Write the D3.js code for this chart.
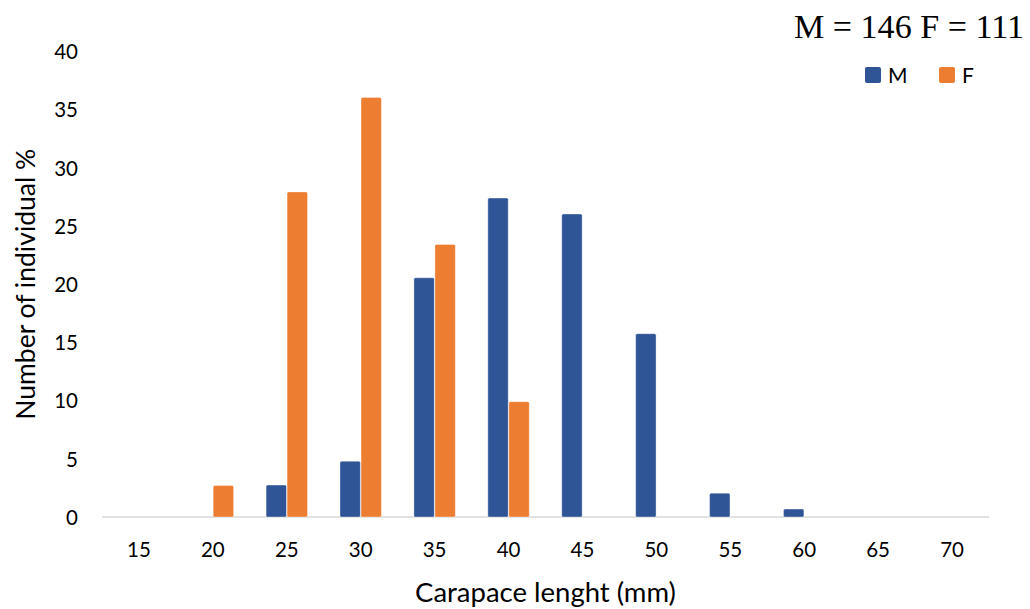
<!DOCTYPE html>
<html>
<head>
<meta charset="utf-8">
<script src="https://cdn.jsdelivr.net/npm/d3@7"></script>
<style>
  html, body { margin: 0; padding: 0; background: #fff; }
  svg { display: block; }
</style>
</head>
<body>
<svg id="chart" width="1030" height="609"></svg>
<script>
// Carapace length classes (mm)
const categories = ["15", "20", "25", "30", "35", "40", "45", "50", "55", "60", "65", "70"];
// Share of individuals (%) per size class
const males   = [0, 0, 2.74, 4.79, 20.55, 27.40, 26.03, 15.75, 2.05, 0.68, 0, 0];
const females = [0, 2.70, 27.93, 36.04, 23.42, 9.91, 0, 0, 0, 0, 0, 0];
const seriesNames = ["M", "F"];
const yTicks = [0, 5, 10, 15, 20, 25, 30, 35, 40];
const sampleNote = "M = 146 F = 111";

const colors = { M: "#2F5597", F: "#ED7D31" };
const sans = "Lato, 'Open Sans', sans-serif";

const svg = d3.select("#chart");
const plot = { left: 102, right: 989, top: 51.4, bottom: 517 };

const x0 = d3.scaleBand()
  .domain(categories)
  .range([plot.left, plot.right])
  .paddingInner(0.44)
  .paddingOuter(0.22);

const x1 = d3.scaleBand()
  .domain(seriesNames)
  .range([0, x0.bandwidth()])
  .paddingInner(0.03);

const y = d3.scaleLinear().domain([0, 40]).range([plot.bottom, plot.top]);

const rows = categories.map((c, i) => ({ cat: c, M: males[i], F: females[i] }));

// Y tick labels (no axis line, no gridlines)
const yAxis = d3.axisLeft(y).tickValues(yTicks).tickSize(0).tickPadding(0);
const gy = svg.append("g").attr("transform", "translate(78,0)").call(yAxis);
gy.select(".domain").remove();
gy.selectAll("text")
  .style("font-family", sans)
  .style("font-size", "20.5px")
  .attr("fill", "#000")
  .attr("dy", "0.36em");

// X axis: light baseline with category labels
const xAxis = d3.axisBottom(x0).tickSize(0).tickPadding(0);
const gx = svg.append("g").attr("transform", `translate(0,${plot.bottom})`).call(xAxis);
gx.select(".domain")
  .attr("stroke", "#d9d9d9")
  .attr("stroke-width", 1.5)
  .attr("d", `M${plot.left},0H${plot.right}`);
gx.selectAll("text")
  .style("font-family", sans)
  .style("font-size", "20.5px")
  .attr("fill", "#000")
  .attr("y", 33)
  .attr("dy", "0.36em");

// Bars
const groups = svg.append("g").selectAll("g")
  .data(rows)
  .join("g")
  .attr("transform", d => `translate(${x0(d.cat)},0)`);

groups.selectAll("rect")
  .data(d => seriesNames.map(k => ({ key: k, value: d[k] })).filter(e => e.value > 0))
  .join("rect")
  .attr("x", d => x1(d.key))
  .attr("y", d => y(d.value))
  .attr("width", x1.bandwidth())
  .attr("height", d => y(0) - y(d.value))
  .attr("rx", 1.5)
  .attr("fill", d => colors[d.key])
  .attr("stroke", "#ffffff")
  .attr("stroke-opacity", 0.45)
  .attr("stroke-width", 0.8);

// Axis titles
svg.append("text")
  .attr("x", (plot.left + plot.right) / 2)
  .attr("y", 602)
  .attr("text-anchor", "middle")
  .style("font-family", sans)
  .style("font-size", "27.5px")
  .attr("fill", "#000")
  .text("Carapace lenght (mm)");

svg.append("text")
  .attr("transform", `translate(35,${(plot.top + plot.bottom) / 2}) rotate(-90)`)
  .attr("text-anchor", "middle")
  .style("font-family", sans)
  .style("font-size", "26.5px")
  .attr("fill", "#000")
  .text("Number of individual %");

// Sample sizes
svg.append("text")
  .attr("x", 794)
  .attr("y", 38)
  .style("font-family", "'Liberation Serif', 'Times New Roman', serif")
  .style("font-size", "34px")
  .attr("fill", "#000")
  .attr("textLength", 230)
  .attr("lengthAdjust", "spacingAndGlyphs")
  .text(sampleNote);

// Legend
const legend = svg.append("g");
const legendPos = [{ key: "M", x: 865 }, { key: "F", x: 939 }];
legendPos.forEach(p => {
  legend.append("rect")
    .attr("x", p.x).attr("y", 67)
    .attr("width", 16).attr("height", 16)
    .attr("rx", 2)
    .attr("fill", colors[p.key]);
  legend.append("text")
    .attr("x", p.x + 23).attr("y", 75)
    .attr("dy", "0.36em")
    .style("font-family", sans)
    .style("font-size", "21px")
    .attr("fill", "#000")
    .text(p.key);
});
</script>
</body>
</html>
